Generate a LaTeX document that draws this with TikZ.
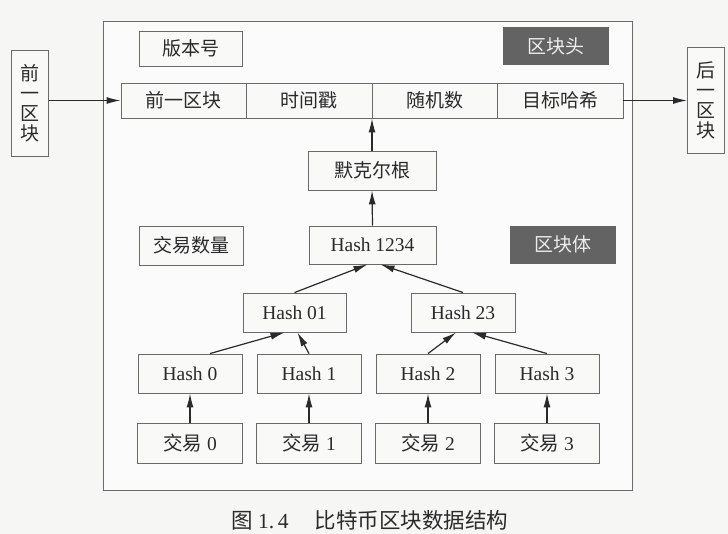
\documentclass[tikz,border=0pt]{standalone}
\usepackage{fontspec}
\setmainfont{Liberation Serif}
\newfontfamily\cjk{Noto Sans CJK SC}
\usetikzlibrary{arrows.meta,calc}
\definecolor{paper}{HTML}{F6F6F4}
\definecolor{boxline}{HTML}{6A6A6A}
\definecolor{ink}{HTML}{2A2A2A}
\definecolor{darkfill}{HTML}{636363}
\definecolor{lighttext}{HTML}{EDEDED}
\definecolor{cellfill}{HTML}{F9F9F8}
\newcommand\zhtext[1]{{\cjk #1}}

\begin{document}
\begin{tikzpicture}[x=1pt,y=-1pt,
  cell/.style={draw=boxline, line width=0.9pt, fill=cellfill, text=ink,
    inner sep=0pt, minimum height=39pt, font=\fontsize{19.5}{22}\selectfont},
  hcell/.style={cell, minimum width=125.5pt, minimum height=35pt},
  side/.style={cell, minimum width=37pt, minimum height=106pt, align=center,
    font=\cjk\fontsize{19}{20}\selectfont},
  tag/.style={fill=darkfill, draw=darkfill, text=lighttext, inner sep=0pt,
    minimum width=105pt, minimum height=37pt, font=\cjk\fontsize{19}{22}\selectfont},
  arr/.style={draw=ink, line width=1.2pt, -{Latex[length=14pt,width=7pt]}},
  zh/.style={font=\cjk\fontsize{19}{22}\selectfont},
]
% page and outer block frame
\useasboundingbox (0,0) rectangle (728,534);
\fill[paper] (0,0) rectangle (728,534);
\draw[boxline, line width=1pt, fill=white!60!paper] (103,22) rectangle (632,490);

% neighbouring blocks
\node[side] (prev) at (30,103) {前\\一\\区\\块};
\node[side] (next) at (706,100) {后\\一\\区\\块};

% block header
\node[cell, zh, minimum width=103pt, minimum height=35pt] (ver) at (190.5,48.5) {版本号};
\node[tag] (headtag) at (555.5,46) {区块头};
\node[hcell, zh] (hd1) at (183.75,100.5) {前一区块};
\node[hcell, zh] (hd2) at (309.25,100.5) {时间戳};
\node[hcell, zh] (hd3) at (434.75,100.5) {随机数};
\node[hcell, zh] (hd4) at (560.25,100.5) {目标哈希};

% block body
\node[cell, zh, minimum width=128pt] (root) at (372,170.5) {默克尔根};
\node[cell, minimum width=127pt, minimum height=38pt] (h1234) at (372.5,245) {Hash 1234};
\node[cell, zh, minimum width=104pt] (count) at (191,245.5) {交易数量};
\node[tag] (bodytag) at (562.5,244.5) {区块体};
\node[cell, minimum width=103pt] (h01) at (294.5,312.5) {Hash 01};
\node[cell, minimum width=104pt] (h23) at (463,312.5) {Hash 23};
\node[cell, minimum width=104pt] (h0) at (190,373.5) {Hash 0};
\node[cell, minimum width=104pt] (h1) at (309,373.5) {Hash 1};
\node[cell, minimum width=104pt] (h2) at (428,373.5) {Hash 2};
\node[cell, minimum width=104pt] (h3) at (547,373.5) {Hash 3};
\node[cell, minimum width=105pt, minimum height=40pt] (t0) at (190,443) {\zhtext{交易} 0};
\node[cell, minimum width=105pt, minimum height=40pt] (t1) at (309,443) {\zhtext{交易} 1};
\node[cell, minimum width=105pt, minimum height=40pt] (t2) at (428,443) {\zhtext{交易} 2};
\node[cell, minimum width=105pt, minimum height=40pt] (t3) at (547,443) {\zhtext{交易} 3};

% chain links
\draw[arr] (prev.east |- hd1.west) -- (hd1.west);
\draw[arr] (hd4.east) -- (next.west |- hd4.east);

% Merkle tree
\draw[arr] (root.north) -- (root.north |- hd3.south);
\draw[arr] (h1234.north) -- (root.south);
\draw[arr] (h01.north) -- ($(h1234.south)+(-5,0)$);
\draw[arr] (h23.north) -- ($(h1234.south)+(8,0)$);
\draw[arr] ($(h0.north)+(20,0)$) -- ($(h01.south)+(-10,0)$);
\draw[arr] (h1.north) -- ($(h01.south)+(3,0)$);
\draw[arr] (h2.north) -- ($(h23.south)+(-7,0)$);
\draw[arr] (h3.north) -- ($(h23.south)+(9,0)$);
\draw[arr] (t0.north) -- (h0.south);
\draw[arr] (t1.north) -- (h1.south);
\draw[arr] (t2.north) -- (h2.south);
\draw[arr] (t3.north) -- (h3.south);

% caption
\node[anchor=west, text=ink, inner sep=0pt, font=\fontsize{21.5}{24}\selectfont] (caption) at (231,520)
  {\zhtext{图} 1.\,4\hspace{26pt}\zhtext{比特币区块数据结构}};
\end{tikzpicture}
\end{document}
